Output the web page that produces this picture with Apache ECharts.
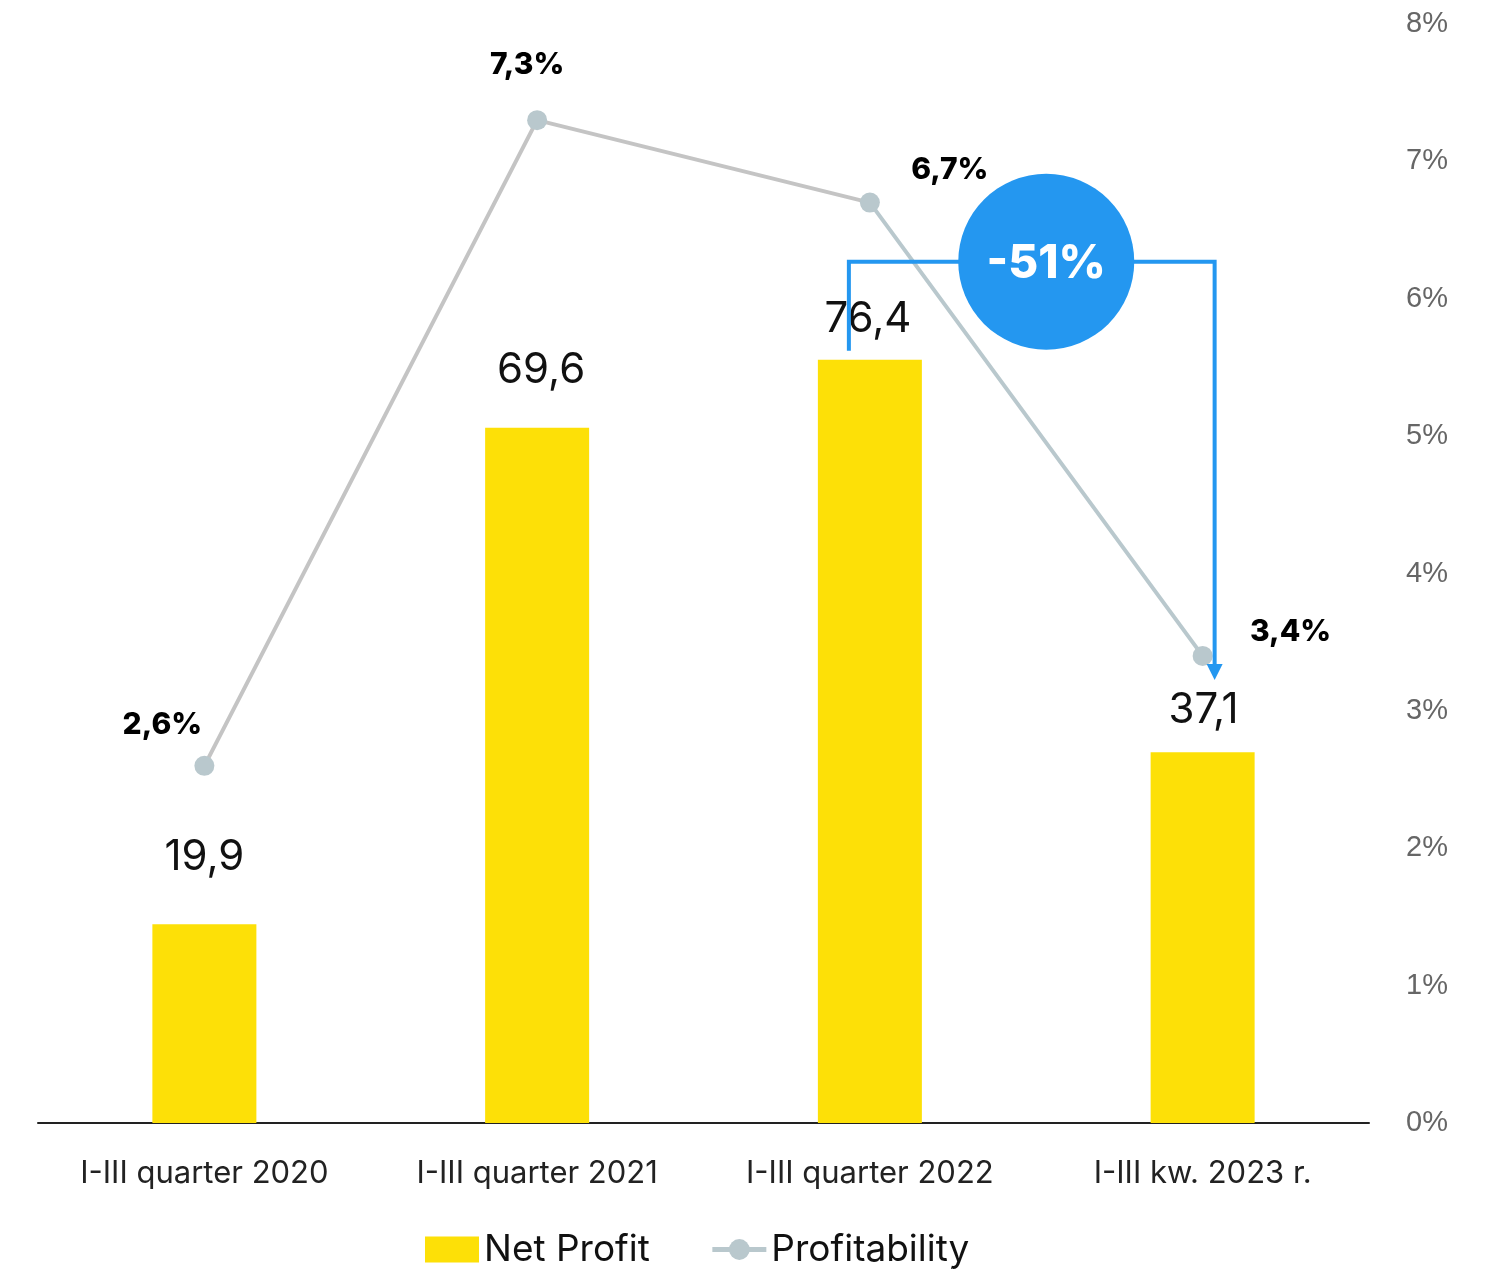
<!DOCTYPE html>
<html>
<head>
	<meta charset="utf-8">
	<title>Net Profit / Profitability</title>
	<script src="https://cdn.jsdelivr.net/npm/echarts@6/dist/echarts.min.js"></script>
	<style>
		html, body { margin: 0; padding: 0; background: #fff; }
		#chart { width: 1488px; height: 1269px; }
	</style>
</head>
<body>
<div id="chart"></div>
<script>
	// data
	var categories = ['I-III quarter 2020', 'I-III quarter 2021', 'I-III quarter 2022', 'I-III kw. 2023 r.'];
	var netProfit = [19.9, 69.6, 76.4, 37.1];
	var profitability = [2.6, 7.3, 6.7, 3.4];
	var changeLabel = '-51%';

	// label nudges (pixels), label positions were placed by hand in the original
	var barLabelOffset = [[0, -41], [4, -31], [-2, -14], [1, -16]];
	var lineLabelOffset = [[-42, -11], [-10, -25], [80, -3], [88, 6]];

	var FONT = 'Inter, "Noto Sans", sans-serif';
	var YELLOW = '#fde007';
	var GRAY = '#c4c4c4';
	var BLUEGRAY = '#b9c8cd';
	var BLUE = '#2497f0';

	function comma(v) { return v.toFixed(1).replace('.', ','); }

	var chart = echarts.init(document.getElementById('chart'));

	// last segment of the line is blue-gray, the rest is gray
	var split = (categories.length - 2) / (categories.length - 1);

	chart.setOption({
		animation: false,
		grid: { left: 38, right: 119, top: 24, bottom: 146, containLabel: false },
		legend: {
			top: 1226,
			left: 420,
			itemWidth: 54,
			itemHeight: 26,
			itemGap: 60,
			textStyle: { fontFamily: FONT, fontSize: 37, color: '#111' },
			data: [
				{ name: 'Net Profit', icon: 'rect' },
				{ name: 'Profitability', lineStyle: { color: BLUEGRAY, width: 5 }, itemStyle: { color: BLUEGRAY } }
			]
		},
		xAxis: {
			type: 'category',
			data: categories,
			axisTick: { show: false },
			axisLine: { lineStyle: { color: '#222', width: 2 } },
			axisLabel: { interval: 0, hideOverlap: false, fontFamily: FONT, fontSize: 31, color: '#222', margin: 35 }
		},
		yAxis: [
			{ type: 'value', min: 0, max: 110, show: false, splitLine: { show: false } },
			{
				type: 'value', position: 'right', min: 0, max: 8, interval: 1,
				axisLine: { show: false }, axisTick: { show: false }, splitLine: { show: false },
				axisLabel: { formatter: '{value}%', fontFamily: '"Liberation Sans", Arial, sans-serif', fontSize: 29, color: '#666', margin: 37 }
			}
		],
		series: [
			{
				name: 'Net Profit',
				type: 'bar',
				barWidth: 104,
				itemStyle: { color: YELLOW },
				data: netProfit.map(function (v, i) {
					return {
						value: v,
						label: {
							show: true, position: 'top', offset: barLabelOffset[i],
							formatter: comma(v), fontFamily: FONT, fontSize: 42, color: '#111'
						}
					};
				})
			},
			{
				name: 'Profitability',
				type: 'line',
				yAxisIndex: 1,
				symbol: 'circle',
				symbolSize: 20,
				z: 3,
				itemStyle: { color: BLUEGRAY },
				lineStyle: {
					width: 4,
					color: {
						type: 'linear', x: 0, y: 0, x2: 1, y2: 0,
						colorStops: [
							{ offset: 0, color: GRAY },
							{ offset: split, color: GRAY },
							{ offset: split, color: BLUEGRAY },
							{ offset: 1, color: BLUEGRAY }
						]
					}
				},
				data: profitability.map(function (v, i) {
					return {
						value: v,
						label: {
							show: true, position: 'top', offset: lineLabelOffset[i],
							formatter: comma(v) + '%', fontFamily: FONT, fontSize: 30,
							fontWeight: 800, color: '#000'
						}
					};
				})
			}
		]
	});

	// change annotation: bracket from the 2022 bar to the 2023 point, with a badge
	var from = 2, to = 3;
	var barTop = chart.convertToPixel({ seriesIndex: 0 }, [from, netProfit[from]]);
	var pTo = chart.convertToPixel({ seriesIndex: 1 }, [to, profitability[to]]);
	var pFrom = chart.convertToPixel({ seriesIndex: 1 }, [from, profitability[from]]);
	var x1 = barTop[0] - 21;
	var y1 = barTop[1] - 9;
	var x2 = pTo[0] + 12;
	var yTop = barTop[1] - 98;
	var yTip = pTo[1] + 24;
	var cx = (pFrom[0] + pTo[0]) / 2 + 10;

	chart.setOption({
		graphic: [
			{
				type: 'polyline', z: 10,
				shape: { points: [[x1, y1], [x1, yTop], [x2, yTop], [x2, yTip - 14]] },
				style: { stroke: BLUE, lineWidth: 4, fill: null }
			},
			{
				type: 'polygon', z: 10,
				shape: { points: [[x2 - 8, yTip - 16], [x2 + 8, yTip - 16], [x2, yTip]] },
				style: { fill: BLUE }
			},
			{
				type: 'circle', z: 11,
				shape: { cx: cx, cy: yTop, r: 88 },
				style: { fill: BLUE }
			},
			{
				type: 'text', z: 12,
				x: cx, y: yTop + 2,
				style: {
					text: changeLabel, fill: '#fff', fontFamily: FONT, fontSize: 46, fontWeight: 800,
					align: 'center', verticalAlign: 'middle'
				}
			}
		]
	});
</script>
</body>
</html>
